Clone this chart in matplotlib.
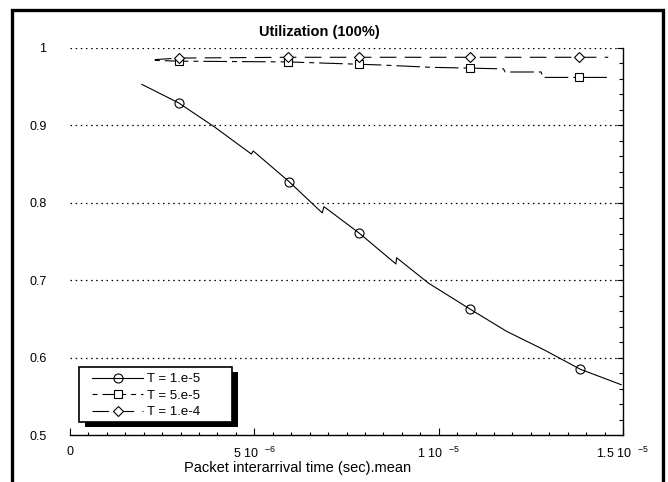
import numpy as np
import matplotlib
matplotlib.use("Agg")
import matplotlib.pyplot as plt
from matplotlib.patches import Rectangle
from matplotlib.ticker import MultipleLocator, FixedLocator

plt.rcParams['font.family'] = ['Liberation Sans', 'DejaVu Sans']
plt.rcParams['mathtext.default'] = 'regular'
plt.rcParams['lines.scale_dashes'] = False

# data (x in microseconds)
x1_us = [1.95, 2.95, 3.92, 4.92, 4.97, 5.95, 6.84, 6.89, 7.84, 8.84, 8.86,
         9.73, 10.84, 11.84, 12.86, 13.84, 14.95]
y1 = [0.953, 0.929, 0.898, 0.863, 0.867, 0.827, 0.787, 0.795, 0.761, 0.721,
      0.729, 0.696, 0.663, 0.634, 0.610, 0.585, 0.565]
mark1 = [1, 5, 8, 12, 15]

x2_us = [2.30, 2.95, 5.92, 7.84, 8.46, 9.81, 10.86, 11.76, 11.80, 12.78,
         12.82, 13.43, 13.81, 14.62]
y2 = [0.984, 0.983, 0.982, 0.979, 0.978, 0.975, 0.974, 0.973, 0.969, 0.969,
      0.962, 0.962, 0.962, 0.962]
mark2 = [1, 2, 3, 6, 12]

x3_us = [2.30, 2.95, 5.92, 7.84, 10.86, 13.81, 14.60]
y3 = [0.985, 0.987, 0.988, 0.988, 0.988, 0.988, 0.988]
mark3 = [1, 2, 3, 4, 5]

labels = ['T = 1.e-5', 'T = 5.e-5', 'T = 1.e-4']
xticks = [0, 5e-6, 1e-5, 1.5e-5]
xtick_labels = ['0', r'5 10 $\;^{-6}$', r'1 10 $\;^{-5}$', r'1.5 10 $\;^{-5}$']
yticks = [0.5, 0.6, 0.7, 0.8, 0.9, 1.0]
ytick_labels = ['0.5', '0.6', '0.7', '0.8', '0.9', '1']

W, H = 668, 482
fig = plt.figure(figsize=(W / 100, H / 100), dpi=100)
ax = fig.add_axes([70 / W, 1 - 435 / H, 553 / W, 387 / H])
ax.patch.set_visible(False)

us = 1e-6
ax.plot(np.array(x1_us) * us, y1, color='black', lw=0.8, marker='o',
        markersize=6.5, mfc='none', mec='black', mew=0.8, markevery=mark1,
        label=labels[0])
ax.plot(np.array(x2_us) * us, y2, color='black', lw=0.8, marker='s',
        markersize=6, mfc='white', mec='black', mew=0.8, markevery=mark2,
        linestyle=(20.6, (17, 3.6, 3.6, 3.6)), label=labels[1])
ax.plot(np.array(x3_us) * us, y3, color='black', lw=0.8, marker='D',
        markersize=5, mfc='white', mec='black', mew=0.8, markevery=mark3,
        dashes=(12, 6), label=labels[2])

ax.set_xlim(0, 1.5e-5)
ax.set_ylim(0.5, 1.0)

for s in ['top', 'left']:
    ax.spines[s].set_visible(False)
for s in ['bottom', 'right']:
    ax.spines[s].set_linewidth(1.0)

ax.xaxis.set_major_locator(FixedLocator(xticks))
ax.set_xticklabels(xtick_labels)
ax.xaxis.set_minor_locator(MultipleLocator(5e-7))
ax.yaxis.set_major_locator(FixedLocator(yticks))
ax.set_yticklabels(ytick_labels)
ax.yaxis.set_minor_locator(MultipleLocator(0.02))

ax.tick_params(axis='x', which='both', direction='in', top=False, bottom=True,
               labelsize=9, width=0.8)
ax.tick_params(axis='x', which='major', length=5, pad=8)
ax.tick_params(axis='x', which='minor', length=2.5)
ax.tick_params(axis='y', which='both', direction='in', left=False, right=True,
               labelleft=True, labelright=False, labelsize=9, width=0.8)
ax.tick_params(axis='y', which='major', length=4, pad=17)
ax.tick_params(axis='y', which='minor', length=3)

# dotted horizontal grid
for yv in yticks[1:]:
    ax.axhline(yv, color='black', lw=0.9, dashes=(1.1, 2.6), zorder=0.5)

# legend: frameless entries inside a hand-drawn box with a black shadow
leg = ax.legend(loc='upper left', bbox_to_anchor=(92 / W, 1 - 373 / H),
                bbox_transform=fig.transFigure, borderaxespad=0, borderpad=0,
                frameon=False, fontsize=9.5, handlelength=3.9,
                handletextpad=0.3, labelspacing=0.32)
leg.set_zorder(6)
fig.patches.append(Rectangle((85 / W, 1 - 427 / H), 153 / W, 55 / H,
                             transform=fig.transFigure, facecolor='black',
                             edgecolor='none', zorder=2))
fig.patches.append(Rectangle((79 / W, 1 - 422 / H), 153 / W, 55 / H,
                             transform=fig.transFigure, facecolor='white',
                             edgecolor='black', lw=1.2, zorder=2.1))
ax.set_zorder(3)

fig.text(319 / W, 1 - 32 / H, 'Utilization (100%)', ha='center', va='center',
         fontsize=10.5, fontweight='bold')
fig.text(298 / W, 1 - 468 / H, 'Packet interarrival time (sec).mean',
         ha='center', va='center', fontsize=10.5)

# outer frame
fig.patches.append(Rectangle((12 / W, -0.05), 651 / W, 1 - 10 / H + 0.05,
                             transform=fig.transFigure, fill=False,
                             edgecolor='black', lw=2.4, zorder=1))

fig.savefig('out.png', dpi=100)
